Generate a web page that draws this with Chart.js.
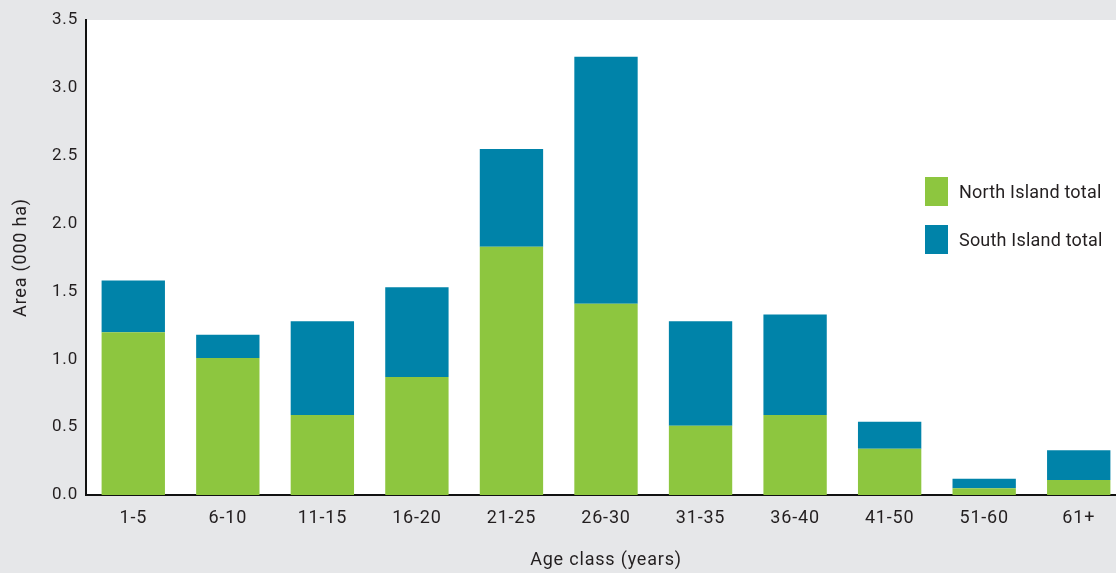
<!DOCTYPE html>
<html>
<head>
<meta charset="utf-8">
<script src="https://cdn.jsdelivr.net/npm/chart.js@4/dist/chart.umd.min.js"></script>
<style>
  html, body { margin: 0; padding: 0; background: #e6e7e9; overflow: hidden; }
  #wrap { width: 1126px; height: 573px; position: relative; }
</style>
</head>
<body>
<div id="wrap"><canvas id="chart"></canvas></div>
<script>
// ─── Data ────────────────────────────────────────────────────────────────────

const ageClasses = ["1-5", "6-10", "11-15", "16-20", "21-25", "26-30", "31-35", "36-40", "41-50", "51-60", "61+"];
const northIsland = [1.20, 1.01, 0.59, 0.87, 1.83, 1.41, 0.51, 0.59, 0.34, 0.05, 0.11];
const southIsland = [0.38, 0.17, 0.69, 0.66, 0.72, 1.82, 0.77, 0.74, 0.20, 0.07, 0.22];
const yTicks = [0, 0.5, 1.0, 1.5, 2.0, 2.5, 3.0, 3.5];

const GREEN = "#8dc63f";
const BLUE = "#0083a9";
const TEXT = "#231f20";
const FONT = "Roboto, 'Noto Sans', sans-serif";

// DIN-ish look: a bit of tracking on every label
// (canvas resize wipes ctx state, so set it again before each pass)
const tracking = {
  id: "tracking",
  beforeUpdate(chart) { chart.ctx.letterSpacing = "0.8px"; },
  beforeDraw(chart) { chart.ctx.letterSpacing = "0.8px"; },
};

// white plot area on the grey page
const plotBackground = {
  id: "plotBackground",
  beforeDraw(chart) {
    const { ctx, chartArea: a } = chart;
    ctx.save();
    ctx.fillStyle = "#ffffff";
    ctx.fillRect(a.left, a.top, a.right - a.left, a.bottom - a.top);
    ctx.restore();
  },
};

// legend sits inside the plot, right side
const insideLegend = {
  id: "insideLegend",
  afterDraw(chart) {
    const { ctx } = chart;
    ctx.save();
    ctx.font = `18px ${FONT}`;
    ctx.letterSpacing = "0.2px";
    ctx.textBaseline = "middle";
    chart.data.datasets.forEach((ds, i) => {
      const y = 177 + i * 48;
      ctx.fillStyle = ds.backgroundColor;
      ctx.fillRect(925, y, 23, 29);
      ctx.fillStyle = TEXT;
      ctx.fillText(ds.label, 959, y + 16);
    });
    ctx.restore();
  },
};

new Chart(document.getElementById("chart"), {
  type: "bar",
  data: {
    labels: ageClasses,
    datasets: [
      { label: "North Island total", data: northIsland, backgroundColor: GREEN },
      { label: "South Island total", data: southIsland, backgroundColor: BLUE },
    ],
  },
  options: {
    responsive: true,
    maintainAspectRatio: false,
    animation: false,
    layout: { padding: { top: 20, right: 0, left: 0, bottom: 0 } },
    datasets: { bar: { barPercentage: 0.67, categoryPercentage: 1 } },
    plugins: { legend: { display: false }, tooltip: { enabled: false } },
    scales: {
      x: {
        stacked: true,
        grid: { display: false, drawTicks: false },
        border: { display: true, color: "#111", width: 2 },
        ticks: { color: TEXT, font: { family: FONT, size: 18 }, padding: 13 },
        title: {
          display: true,
          text: "Age class (years)",
          color: TEXT,
          font: { family: FONT, size: 18 },
          padding: { top: 4, bottom: 2 },
        },
        afterFit: (s) => { s.height = 78; },
      },
      y: {
        stacked: true,
        min: 0,
        max: 3.5,
        grid: { display: false, drawTicks: false },
        border: { display: true, color: "#111", width: 2 },
        afterBuildTicks: (s) => { s.ticks = yTicks.map((v) => ({ value: v })); },
        ticks: {
          color: TEXT,
          font: { family: FONT, size: 17 },
          padding: 8,
          callback: (v) => Number(v).toFixed(1),
        },
        title: {
          display: true,
          text: "Area (000 ha)",
          color: TEXT,
          font: { family: FONT, size: 18 },
          padding: { top: 11, bottom: 0 },
        },
        afterFit: (s) => { s.width = 86; },
      },
    },
  },
  plugins: [tracking, plotBackground, insideLegend],
});
</script>
</body>
</html>
